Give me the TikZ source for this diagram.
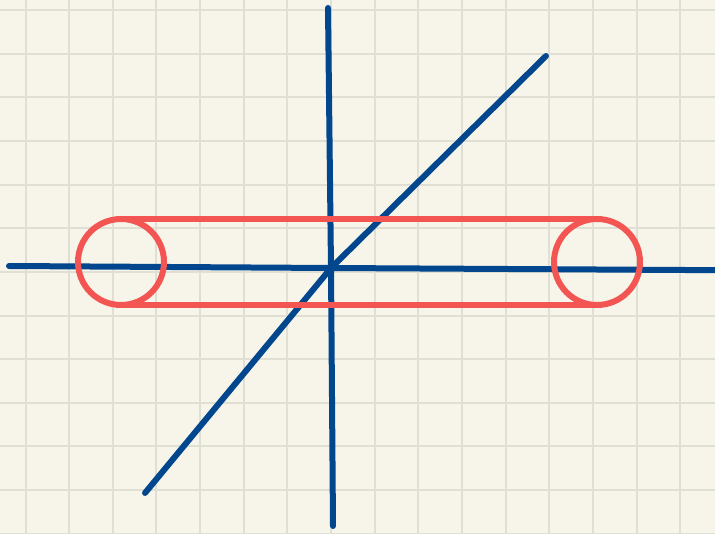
\documentclass[tikz,border=0pt]{standalone}
\definecolor{bgc}{RGB}{247,245,234}
\definecolor{gridc}{RGB}{224,223,212}
\definecolor{axisc}{RGB}{2,70,142}
\definecolor{redc}{RGB}{243,86,82}
\begin{document}
\begin{tikzpicture}[x=1pt,y=-1pt,
  gridline/.style={draw=gridc,line width=2pt},
  axisline/.style={draw=axisc,line width=6pt,line cap=round,line join=round},
  loopline/.style={draw=redc,line width=6pt}]
\useasboundingbox (0,0) rectangle (715,534);
\fill[bgc] (0,0) rectangle (715,534);
\foreach \i in {0,...,15} {
  \draw[gridline] ({25.5+43.65*\i},0) -- ({25.5+43.65*\i},534);
}
\foreach \j in {0,...,12} {
  \draw[gridline] (0,{10+43.65*\j}) -- (715,{10+43.65*\j});
}
% axes
\coordinate (o) at (331,268);
\coordinate (vt) at (328,8);
\coordinate (vb) at (333,526);
\coordinate (dl) at (145,493);
\coordinate (dr) at (546,56);
\coordinate (hl) at (9,266);
\coordinate (hr) at (720,270.2);
\draw[axisline] (vt) -- (o) -- (vb);
\draw[axisline] (dl) -- (o) -- (dr);
\draw[axisline] (hl) -- (o) -- (hr);
% red loop
\coordinate (lc) at (121,262);
\coordinate (rc) at (597,262);
\draw[loopline] (121,219) -- (597,219);
\draw[loopline] (121,305) -- (597,305);
\draw[loopline] (lc) circle (43);
\draw[loopline] (rc) circle (43);
\end{tikzpicture}
\end{document}
